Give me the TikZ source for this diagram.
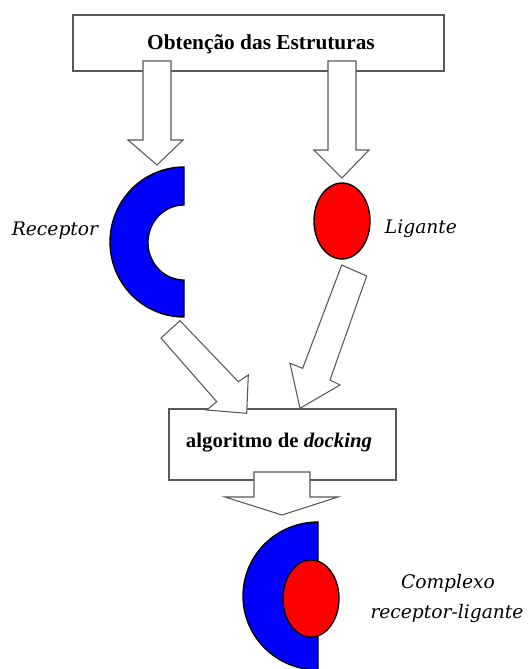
\documentclass[tikz,border=0pt]{standalone}
\usepackage{fontspec}
\setmainfont{Liberation Serif}
\newfontfamily\labelfont{DejaVu Serif}
\begin{document}
\begin{tikzpicture}[x=0.75pt,y=-0.75pt,
  boxstyle/.style={draw=black!65,line width=0.9pt,fill=white},
  blockarrow/.style={draw=black!65,line width=0.8pt,fill=white,line join=miter},
  recfill/.style={draw=black,line width=1pt,fill={rgb,255:red,0;green,0;blue,255}},
  ligfill/.style={draw=black,line width=1pt,fill={rgb,255:red,255;green,0;blue,0}},
  lbl/.style={font=\labelfont\itshape\fontsize{14pt}{16pt}\selectfont,anchor=base,inner sep=0pt},
  boxtext/.style={font=\bfseries\fontsize{16pt}{18pt}\selectfont,anchor=base,inner sep=0pt}]
\useasboundingbox (0,0) rectangle (530,669);

% top box
\draw[boxstyle] (73,15) rectangle (444,71);
\node[boxtext] (title) at (261,49) {Obtenção das Estruturas};

% down arrows
\draw[blockarrow] (143,61) -- (171,61) -- (171,140) -- (183,140) -- (157,165) -- (128,140) -- (143,140) -- cycle;
\draw[blockarrow] (328,61) -- (356,61) -- (356,150) -- (369,150) -- (342,178) -- (314,150) -- (328,150) -- cycle;

% receptor
\draw[recfill] plot[domain=90:270,samples=80] ({184+74*cos(\x)},{242-75*sin(\x)})
  -- (184,280) -- plot[domain=270:90,samples=60] ({184+36*cos(\x)},{242.5-37.5*sin(\x)}) -- cycle;
\node[lbl] (receptor) at (55,235) {Receptor};

% ligand
\draw[ligfill] (342,221) ellipse [x radius=28, y radius=38];
\node[lbl] (ligante) at (421,233) {Ligante};

% docking box
\draw[boxstyle] (169,409) rectangle (396,480);
\node[font=\fontsize{15.6pt}{18pt}\selectfont,anchor=base,inner sep=0pt] (dock) at (279,447) {\textbf{algoritmo de \textit{docking}}};

% diagonal arrows
\draw[blockarrow] (161,338) -- (216.7,401.7) -- (206.7,410) -- (246.7,413.3) -- (248.3,375) -- (238.3,381.7) -- (180,320.7) -- cycle;
\draw[blockarrow] (341.7,265) -- (302.7,368.3) -- (290,363.3) -- (300,408.3) -- (340,385) -- (330,380) -- (366.7,276) -- cycle;

% bottom arrow
\draw[blockarrow] (254,472) -- (310,472) -- (310,497) -- (338,497) -- (282,515) -- (225,497) -- (254,497) -- cycle;

% complex
\draw[recfill] plot[domain=90:270,samples=80] ({318+75*cos(\x)},{596-74*sin(\x)}) -- cycle;
\draw[ligfill] (311,598.5) ellipse [x radius=28, y radius=38.5];
\node[lbl] (complexo) at (448,588) {Complexo};
\node[lbl] (recliga) at (447,618) {receptor-ligante};
\end{tikzpicture}
\end{document}
